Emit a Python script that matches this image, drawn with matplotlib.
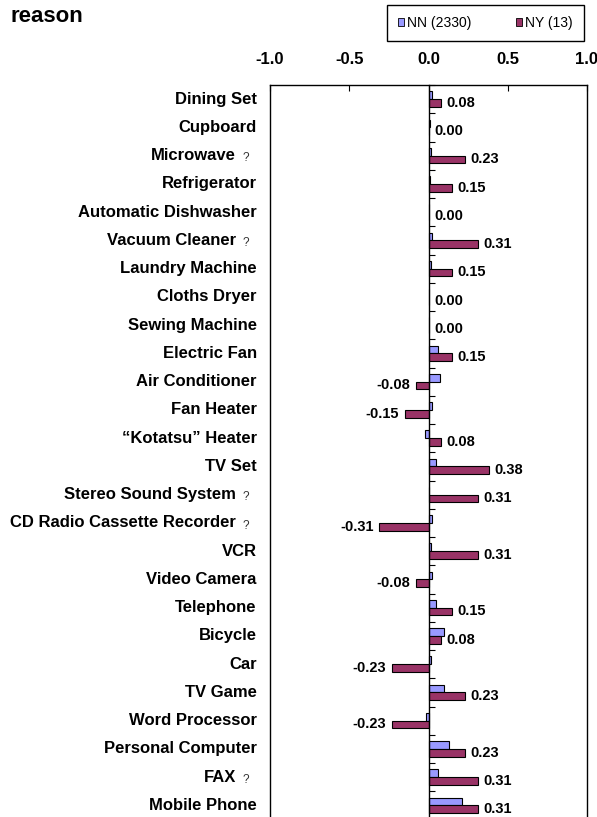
import matplotlib
matplotlib.use('Agg')
import matplotlib.pyplot as plt
from matplotlib.patches import Patch
import numpy as np

plt.rcParams['font.family'] = ['Liberation Sans', 'DejaVu Sans']

items = ['Dining Set', 'Cupboard', 'Microwave', 'Refrigerator', 'Automatic Dishwasher',
         'Vacuum Cleaner', 'Laundry Machine', 'Cloths Dryer', 'Sewing Machine', 'Electric Fan',
         'Air Conditioner', 'Fan Heater', '\u201cKotatsu\u201d Heater', 'TV Set',
         'Stereo Sound System', 'CD Radio Cassette Recorder', 'VCR', 'Video Camera',
         'Telephone', 'Bicycle', 'Car', 'TV Game', 'Word Processor', 'Personal Computer',
         'FAX', 'Mobile Phone']
marked = ['Microwave', 'Vacuum Cleaner', 'Stereo Sound System',
          'CD Radio Cassette Recorder', 'FAX']
nn = [0.02, 0.01, 0.015, 0.01, 0.005, 0.025, 0.015, 0.0, 0.005, 0.06,
      0.07, 0.025, -0.02, 0.05, 0.0, 0.025, 0.015, 0.025, 0.045, 0.10,
      0.015, 0.10, -0.015, 0.13, 0.06, 0.21]
ny = [0.08, 0.00, 0.23, 0.15, 0.00, 0.31, 0.15, 0.00, 0.00, 0.15,
      -0.08, -0.15, 0.08, 0.38, 0.31, -0.31, 0.31, -0.08, 0.15, 0.08,
      -0.23, 0.23, -0.23, 0.23, 0.31, 0.31]
nn_label = 'NN (2330)'
ny_label = 'NY (13)'
xticks = [-1.0, -0.5, 0.0, 0.5, 1.0]

fig = plt.figure(figsize=(5.97, 8.17), dpi=100)
ax = fig.add_axes([270 / 597, -2.5 / 817, 317 / 597, 734.5 / 817])

y = np.arange(len(items))
h = 0.27
ax.barh(y - h / 2, nn, height=h, color='#9999FF', edgecolor='black', linewidth=0.8)
ax.barh(y + h / 2, ny, height=h, color='#993366', edgecolor='black', linewidth=0.8)

ax.set_xlim(-1.0, 1.0)
ax.set_ylim(len(items) - 0.5, -0.5)

# x axis on top, ticks pointing into the plot
ax.xaxis.tick_top()
ax.set_xticks(xticks)
ax.set_xticklabels(['%.1f' % t for t in xticks], fontsize=12, fontweight='bold')
ax.tick_params(axis='x', direction='in', length=4, pad=13, width=0.8)

# category axis crosses at zero, ticks at row boundaries
ax.spines['left'].set_position(('data', 0))
ax.set_yticks(np.arange(-0.5, len(items), 1.0))
ax.set_yticklabels([])
ax.tick_params(axis='y', direction='in', length=4, width=0.8)
for s in ax.spines.values():
    s.set_linewidth(1.0)
ax.plot([0, 0], [0, 1], transform=ax.transAxes, color='black', lw=1.0, clip_on=False)

# category names
for i, name in enumerate(items):
    if name in marked:
        ax.annotate(name, xy=(0, i), xycoords=('axes fraction', 'data'),
                    xytext=(-24.5, 0), textcoords='offset points',
                    ha='right', va='center', fontsize=12, fontweight='bold')
        ax.annotate('?', xy=(0, i), xycoords=('axes fraction', 'data'),
                    xytext=(-20, -2), textcoords='offset points',
                    ha='left', va='center', fontsize=8.5, color='#333333')
    else:
        ax.annotate(name, xy=(0, i), xycoords=('axes fraction', 'data'),
                    xytext=(-9.5, 0), textcoords='offset points',
                    ha='right', va='center', fontsize=12, fontweight='bold')

# value labels for NY
for i, v in enumerate(ny):
    off = 4 if v >= 0 else -4
    ax.annotate('%.2f' % v, xy=(v, i + h / 2), xytext=(off, 0), textcoords='offset points',
                ha='left' if v >= 0 else 'right', va='center',
                fontsize=10.5, fontweight='bold')

fig.text(10 / 597, 1 - 16 / 817, 'reason', fontsize=16, fontweight='bold', va='center')

handles = [Patch(facecolor='#9999FF', edgecolor='black', linewidth=0.6, label=nn_label),
           Patch(facecolor='#993366', edgecolor='black', linewidth=0.6, label=ny_label)]
leg = fig.legend(handles=handles, loc='upper left', bbox_to_anchor=(387 / 597, 1 - 5 / 817),
                 ncol=2, fontsize=10, frameon=True, fancybox=False, edgecolor='black',
                 framealpha=1, handlelength=0.45, handleheight=0.45, handletextpad=0.2,
                 columnspacing=3.2, borderpad=0.8, borderaxespad=0)
leg.get_frame().set_linewidth(1.0)

fig.savefig('out.png', dpi=100)
